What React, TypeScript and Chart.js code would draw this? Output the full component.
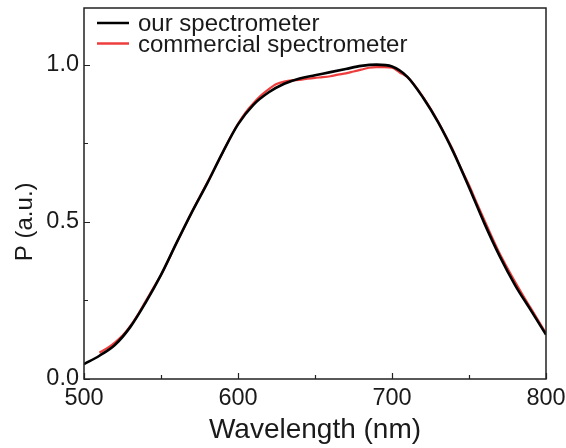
import React, { useEffect, useRef } from 'react';
import { Chart, registerables } from 'chart.js';

Chart.register(...registerables);

const seriesLabels = ['our spectrometer', 'commercial spectrometer'];
const seriesColors = ['#000000', '#ee3d3d'];

const ourWavelengths = [500, 510, 520, 530, 540, 550, 560, 570, 580, 590, 600, 610, 620, 630, 640, 650, 660, 670, 680, 690, 700, 710, 720, 730, 740, 750, 760, 770, 780, 790, 800];
const ourValues = [0.047, 0.074, 0.108, 0.165, 0.243, 0.331, 0.432, 0.530, 0.622, 0.720, 0.810, 0.872, 0.912, 0.939, 0.956, 0.966, 0.976, 0.986, 0.996, 1.0, 0.994, 0.961, 0.896, 0.816, 0.720, 0.610, 0.495, 0.390, 0.298, 0.220, 0.141];

const commWavelengths = [510, 515, 520, 525, 530, 535, 540, 545, 550, 555, 560, 565, 570, 575, 580, 585, 590, 595, 600, 605, 610, 615, 620, 625, 630, 635, 640, 645, 650, 655, 660, 665, 670, 675, 680, 685, 690, 695, 700, 705, 710, 715, 720, 725, 730, 735, 740, 745, 750, 755, 760, 765, 770, 775, 780, 785, 790, 795, 800];
const commValues = [0.084, 0.098, 0.116, 0.138, 0.168, 0.205, 0.247, 0.289, 0.331, 0.380, 0.432, 0.482, 0.531, 0.578, 0.624, 0.672, 0.720, 0.768, 0.812, 0.848, 0.877, 0.902, 0.922, 0.938, 0.946, 0.950, 0.951, 0.955, 0.958, 0.960, 0.963, 0.968, 0.972, 0.978, 0.984, 0.990, 0.992, 0.992, 0.990, 0.975, 0.960, 0.932, 0.898, 0.860, 0.818, 0.772, 0.724, 0.668, 0.617, 0.560, 0.505, 0.450, 0.398, 0.352, 0.308, 0.266, 0.226, 0.186, 0.145];

const xMajorTicks = [500, 600, 700, 800];
const xMinorTicks = [550, 650, 750];
const yMajorTicks = [0, 0.5, 1.0];
const yMinorTicks = [0.25, 0.75];
const xTitle = 'Wavelength (nm)';
const yTitle = 'P (a.u.)';

const FONT = '"Liberation Sans", Arial, sans-serif';
const TEXT = '#1a1a1a';

const framePlugin = {
  id: 'frame',
  afterDraw(chart: any) {
    const { ctx, chartArea } = chart;
    const { left, right, top, bottom } = chartArea;
    const xs = chart.scales.x;
    const ys = chart.scales.y;
    ctx.save();
    ctx.strokeStyle = '#222';
    ctx.lineWidth = 1.5;
    ctx.strokeRect(left, top, right - left, bottom - top);
    ctx.lineWidth = 1.2;
    ctx.beginPath();
    xMajorTicks.forEach((v) => {
      const p = Math.round(xs.getPixelForValue(v)) + 0.5;
      ctx.moveTo(p, bottom);
      ctx.lineTo(p, bottom - 6);
    });
    xMinorTicks.forEach((v) => {
      const p = Math.round(xs.getPixelForValue(v)) + 0.5;
      ctx.moveTo(p, bottom);
      ctx.lineTo(p, bottom - 4);
    });
    yMajorTicks.forEach((v) => {
      const p = Math.round(ys.getPixelForValue(v)) + 0.5;
      ctx.moveTo(left, p);
      ctx.lineTo(left + 6, p);
    });
    yMinorTicks.forEach((v) => {
      const p = Math.round(ys.getPixelForValue(v)) + 0.5;
      ctx.moveTo(left, p);
      ctx.lineTo(left + 4, p);
    });
    ctx.stroke();

    // legend
    ctx.font = `24px ${FONT}`;
    ctx.textBaseline = 'alphabetic';
    ctx.textAlign = 'left';
    chart.data.datasets.forEach((ds: any, i: number) => {
      const ly = top + 15 + i * 20.5;
      ctx.strokeStyle = ds.borderColor;
      ctx.lineWidth = 2.5;
      ctx.beginPath();
      ctx.moveTo(left + 13, ly);
      ctx.lineTo(left + 45, ly);
      ctx.stroke();
      ctx.fillStyle = TEXT;
      ctx.fillText(ds.label, left + 54, ly + 8);
    });

    // y title
    ctx.save();
    ctx.translate(25, ys.getPixelForValue(0.5));
    ctx.rotate(-Math.PI / 2);
    ctx.textAlign = 'center';
    ctx.textBaseline = 'middle';
    ctx.font = `24px ${FONT}`;
    ctx.fillStyle = TEXT;
    ctx.fillText(yTitle, 0, 0);
    ctx.restore();
    ctx.restore();
  },
};

export default function App() {
  const ref = useRef<HTMLCanvasElement | null>(null);
  useEffect(() => {
    if (!ref.current) return;
    const chart = new Chart(ref.current, {
      type: 'line',
      data: {
        datasets: [
          {
            label: seriesLabels[0],
            data: ourWavelengths.map((x, i) => ({ x, y: ourValues[i] })),
            borderColor: seriesColors[0],
            borderWidth: 2.6,
            pointRadius: 0,
            cubicInterpolationMode: 'monotone',
            fill: false,
          },
          {
            label: seriesLabels[1],
            data: commWavelengths.map((x, i) => ({ x, y: commValues[i] })),
            borderColor: seriesColors[1],
            borderWidth: 2.2,
            pointRadius: 0,
            cubicInterpolationMode: 'monotone',
            fill: false,
          },
        ],
      },
      options: {
        animation: false,
        responsive: false,
        maintainAspectRatio: false,
        layout: { padding: { top: 8, right: 20, left: 0, bottom: 0 } },
        plugins: { legend: { display: false }, tooltip: { enabled: false } },
        scales: {
          x: {
            type: 'linear',
            min: 500,
            max: 800,
            grid: { display: false, drawTicks: false },
            border: { display: false },
            ticks: {
              stepSize: 100,
              includeBounds: false,
              padding: 5,
              color: TEXT,
              font: { family: FONT, size: 23.5 },
              maxRotation: 0,
            },
            title: {
              display: true,
              text: xTitle,
              color: TEXT,
              font: { family: FONT, size: 28 },
              padding: { top: 0, bottom: 1 },
            },
            afterFit: (s: any) => {
              s.height = 69;
              s.paddingLeft = 0;
              s.paddingRight = 0;
              s.paddingTop = 0;
              s.paddingBottom = 0;
            },
          },
          y: {
            type: 'linear',
            min: 0,
            max: 1.18,
            grid: { display: false, drawTicks: false },
            border: { display: false },
            ticks: {
              stepSize: 0.5,
              includeBounds: false,
              padding: 5,
              color: TEXT,
              font: { family: FONT, size: 23.5 },
              callback: (v: any) => Number(v).toFixed(1),
            },
            afterFit: (s: any) => {
              s.width = 84;
              s.paddingLeft = 0;
              s.paddingRight = 0;
              s.paddingTop = 0;
              s.paddingBottom = 0;
            },
          },
        },
      },
      plugins: [framePlugin],
    });
    return () => chart.destroy();
  }, []);
  return (
    <div style={{ position: 'fixed', left: 0, top: 0, width: 566, height: 448, background: '#fff' }}>
      <canvas ref={ref} width={566} height={448} />
    </div>
  );
}
